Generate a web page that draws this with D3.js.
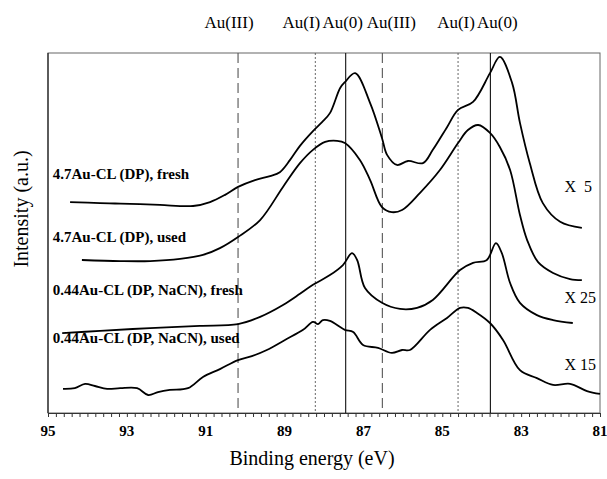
<!DOCTYPE html>
<html><head><meta charset="utf-8">
<script src="https://cdn.jsdelivr.net/npm/d3@7"></script>
<style>body{margin:0;background:#fff}svg{display:block}</style>
</head><body>
<svg id="chart" width="607" height="479"></svg>
<script>
// ---- data ----
const xTickLabels = [95, 93, 91, 89, 87, 85, 83, 81];
const refLines = [
  {label: "Au(III)", be: 90.18, style: "dashed"},
  {label: "Au(I)",   be: 88.22, style: "dotted"},
  {label: "Au(0)",   be: 87.45, style: "solid"},
  {label: "Au(III)", be: 86.52, style: "dashed"},
  {label: "Au(I)",   be: 84.60, style: "dotted"},
  {label: "Au(0)",   be: 83.78, style: "solid"}
];
const seriesNames = ["4.7Au-CL (DP), fresh", "4.7Au-CL (DP), used", "0.44Au-CL (DP, NaCN), fresh", "0.44Au-CL (DP, NaCN), used"];
const factorLabels = ["X  5", "X 25", "X 15"];
const fresh47 = [[94.44,58.6],[93.68,58.3],[92.92,58.1],[92.16,57.8],[91.32,57.5],[90.89,58.6],[90.51,60.6],[90.18,62.8],[89.75,64.7],[89.37,65.8],[89.12,66.9],[88.86,70.3],[88.61,74.2],[88.28,78.3],[88.05,80.8],[87.85,83.3],[87.59,90.3],[87.47,91.9],[87.21,94.4],[86.83,86.1],[86.53,76.4],[86.40,71.7],[86.15,68.9],[85.87,70.0],[85.49,69.4],[85.24,73.1],[84.88,79.4],[84.60,84.2],[84.22,86.4],[83.79,94.4],[83.54,98.9],[83.23,91.7],[83.03,80.6],[82.78,69.4],[82.45,58.3],[82.01,53.1],[81.46,51.4]];
const used47 = [[94.14,42.5],[93.17,42.2],[92.41,42.2],[91.65,42.8],[91.07,43.9],[90.64,45.8],[90.18,48.9],[89.62,53.6],[89.04,62.8],[88.61,69.4],[88.28,73.1],[87.97,75.3],[87.67,75.6],[87.47,75.0],[87.09,70.3],[86.83,64.7],[86.53,57.2],[86.28,55.8],[86.02,56.4],[85.57,61.1],[85.06,67.5],[84.60,75.0],[84.35,78.6],[84.09,80.0],[83.79,77.8],[83.54,73.9],[83.28,67.5],[83.03,55.0],[82.85,48.1],[82.57,41.9],[82.19,38.9],[81.76,37.2],[81.46,36.9]];
const fresh044 = [[94.64,22.2],[93.68,22.8],[92.41,23.6],[91.15,24.2],[90.18,24.7],[89.62,26.7],[89.04,30.0],[88.61,33.1],[88.28,35.6],[87.85,38.3],[87.52,41.1],[87.29,44.4],[87.16,42.5],[86.96,34.7],[86.53,30.6],[86.07,28.9],[85.64,29.2],[85.24,31.4],[84.55,39.7],[84.22,41.7],[83.87,42.5],[83.64,47.2],[83.49,44.4],[83.28,36.1],[83.03,30.6],[82.60,27.2],[82.19,25.8],[81.69,25.0]];
const used044 = [[94.62,6.7],[94.32,6.9],[94.06,8.1],[93.81,7.5],[93.50,6.7],[93.17,6.9],[92.74,6.9],[92.46,5.0],[92.21,5.8],[91.91,6.4],[91.45,6.9],[91.07,10.0],[90.64,12.2],[90.18,14.7],[89.83,15.8],[89.45,17.5],[88.99,20.3],[88.53,23.1],[88.28,25.3],[88.15,24.7],[88.03,25.8],[87.85,25.6],[87.47,23.1],[87.26,22.5],[87.01,18.9],[86.63,18.1],[86.28,16.7],[86.02,17.5],[85.82,17.5],[85.31,23.1],[84.88,26.4],[84.55,29.2],[84.35,29.2],[84.12,27.8],[83.79,25.0],[83.46,20.3],[83.03,11.9],[82.60,9.7],[82.19,7.8],[81.76,8.1],[81.33,6.1],[81.00,5.3]];
const allSeries = [fresh47, used47, fresh044, used044];
const labelPos = [[94.88, 65], [94.88, 47.5], [94.88, 32.8], [94.88, 19.4]];
const factorPos = [[81.9, 61.5], [81.9, 30.5], [81.9, 12.0]];

// ---- layout ----
const svg = d3.select("#chart");
const m = {left: 48, right: 600, top: 53, bottom: 413};
const x = d3.scaleLinear().domain([95, 81]).range([m.left, m.right]);
const y = d3.scaleLinear().domain([0, 100]).range([m.bottom, m.top]);
const serif = "'Liberation Serif','Times New Roman',serif";

// frame
svg.append("rect").attr("x", m.left).attr("y", m.top)
  .attr("width", m.right - m.left).attr("height", m.bottom - m.top)
  .attr("fill", "none").attr("stroke", "#666").attr("stroke-width", 1);
svg.append("line").attr("x1", m.left).attr("x2", m.left).attr("y1", m.top).attr("y2", m.bottom)
  .attr("stroke", "#222").attr("stroke-width", 1.2);

// reference lines
const dashMap = {dashed: "10,5", dotted: "2,2", solid: null};
svg.selectAll("line.ref").data(refLines).enter().append("line")
  .attr("class", "ref")
  .attr("x1", d => x(d.be)).attr("x2", d => x(d.be))
  .attr("y1", m.top).attr("y2", m.bottom)
  .attr("stroke", d => d.style === "solid" ? "#111" : "#555")
  .attr("stroke-width", d => d.style === "dotted" ? 0.9 : 1.1)
  .attr("stroke-dasharray", d => dashMap[d.style]);

// top labels
svg.selectAll("text.top").data(refLines).enter().append("text")
  .attr("class", "top")
  .attr("x", (d, i) => x(d.be) + [-9, -14, -3, 9, -2, 7][i])
  .attr("y", 28)
  .attr("text-anchor", "middle")
  .attr("font-family", serif).attr("font-size", 17)
  .text(d => d.label);

// x axis
const axis = d3.axisBottom(x)
  .tickValues(d3.range(0, 71).map(i => 95 - i * 0.2))
  .tickSize(4).tickFormat("");
const gx = svg.append("g").attr("transform", `translate(0,${m.bottom})`).call(axis);
gx.select(".domain").attr("stroke", "#333");
gx.selectAll(".tick line").attr("stroke", "#333");
svg.selectAll("text.xl").data(xTickLabels).enter().append("text")
  .attr("class", "xl")
  .attr("x", d => x(d)).attr("y", 436)
  .attr("text-anchor", "middle")
  .attr("font-family", serif).attr("font-size", 15).attr("font-weight", "bold")
  .text(d => d);

svg.append("text").attr("x", (m.left + m.right) / 2 - 12).attr("y", 465)
  .attr("text-anchor", "middle").attr("font-family", serif).attr("font-size", 20)
  .text("Binding energy (eV)");
svg.append("text").attr("transform", "translate(28,209) rotate(-90)")
  .attr("text-anchor", "middle").attr("font-family", serif).attr("font-size", 20)
  .text("Intensity (a.u.)");

// curves
const line = d3.line().x(d => x(d[0])).y(d => y(d[1])).curve(d3.curveCatmullRom.alpha(0.5));
svg.selectAll("path.s").data(allSeries).enter().append("path")
  .attr("class", "s")
  .attr("d", line)
  .attr("fill", "none").attr("stroke", "#000").attr("stroke-width", 1.8)
  .attr("stroke-linejoin", "round");

// series labels
svg.selectAll("text.sl").data(seriesNames).enter().append("text")
  .attr("class", "sl")
  .attr("x", (d, i) => x(labelPos[i][0])).attr("y", (d, i) => y(labelPos[i][1]))
  .attr("font-family", serif).attr("font-size", 15).attr("font-weight", "bold")
  .text(d => d);

svg.selectAll("text.fl").data(factorLabels).enter().append("text")
  .attr("class", "fl")
  .attr("x", (d, i) => x(factorPos[i][0])).attr("y", (d, i) => y(factorPos[i][1]))
  .attr("font-family", serif).attr("font-size", 16)
  .style("white-space", "pre")
  .text(d => d);
</script>
</body></html>
